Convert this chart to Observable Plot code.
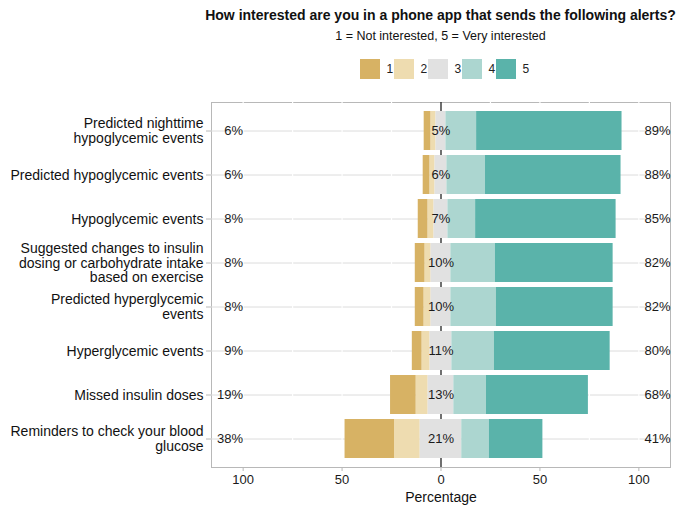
<!DOCTYPE html>
<html>
<head>
<meta charset="utf-8">
<script src="https://cdn.jsdelivr.net/npm/d3@7"></script>
<script src="https://cdn.jsdelivr.net/npm/@observablehq/plot@0.6"></script>
<style>
  html, body { margin: 0; padding: 0; background: #fff; }
  #wrap { position: relative; width: 680px; height: 513px; font-family: "Liberation Sans", Arial, sans-serif; color: #111; }
  #title { position: absolute; left: 200px; width: 481px; top: 6px; text-align: center; font-weight: bold; font-size: 14px; line-height: 18px; white-space: nowrap; }
  #subtitle { position: absolute; left: 200px; width: 481px; top: 29px; text-align: center; font-size: 12.5px; line-height: 15px; white-space: nowrap; }
  #legend { position: absolute; left: 360px; top: 59px; }
  #chart { position: absolute; left: 0; top: 88px; }
  svg { font-family: "Liberation Sans", Arial, sans-serif; }
</style>
</head>
<body>
<div id="wrap">
  <div id="title">How interested are you in a phone app that sends the following alerts?</div>
  <div id="subtitle">1 = Not interested, 5 = Very interested</div>
  <div id="legend"></div>
  <div id="chart"></div>
</div>
<script>
// ---- data ----
const items = [
  "Predicted nighttime hypoglycemic events",
  "Predicted hypoglycemic events",
  "Hypoglycemic events",
  "Suggested changes to insulin dosing or carbohydrate intake based on exercise",
  "Predicted hyperglycemic events",
  "Hyperglycemic events",
  "Missed insulin doses",
  "Reminders to check your blood glucose"
];
const itemLabels = [
  "Predicted nighttime\nhypoglycemic events",
  "Predicted hypoglycemic events",
  "Hypoglycemic events",
  "Suggested changes to insulin\ndosing or carbohydrate intake\nbased on exercise",
  "Predicted hyperglycemic\nevents",
  "Hyperglycemic events",
  "Missed insulin doses",
  "Reminders to check your blood\nglucose"
];
const levels = ["1", "2", "3", "4", "5"];
const levelColors = ["#d7b264", "#eedcb0", "#e1e1e1", "#acd6d0", "#5ab3aa"];
const pct1 = [3.5, 3.5, 5, 5, 4.5, 5, 13, 25];
const pct2 = [2.5, 2.5, 3, 3, 3.5, 4, 6, 13];
const pct3 = [5, 6, 7, 10, 10, 11, 13, 21];
const pct4 = [15.5, 19.5, 14, 22.5, 23, 21.5, 16.5, 14];
const pct5 = [73.5, 68.5, 71, 59.5, 59, 58.5, 51.5, 27];
const xTicks = [-100, -50, 0, 50, 100];
const xGrid = [-100, -75, -50, -25, 25, 50, 75, 100];

// ---- derived tables ----
const series = [pct1, pct2, pct3, pct4, pct5];
const segments = [];
items.forEach((item, i) => {
  let start = -(pct1[i] + pct2[i] + pct3[i] / 2);
  series.forEach((s, k) => {
    segments.push({item, level: levels[k], x1: start, x2: start + s[i]});
    start += s[i];
  });
});
const summary = items.map((item, i) => ({
  item,
  low: Math.round(pct1[i] + pct2[i]) + "%",
  neutral: Math.round(pct3[i]) + "%",
  high: Math.round(pct4[i] + pct5[i]) + "%",
  label: itemLabels[i]
}));

const colorScale = {domain: levels, range: levelColors};

// ---- main chart ----
const chart = Plot.plot({
  width: 680,
  height: 425,
  marginTop: 14,
  marginBottom: 46,
  marginLeft: 211,
  marginRight: 10,
  style: {fontFamily: "Liberation Sans, Arial, sans-serif", background: "transparent"},
  x: {domain: [-116, 116], label: null},
  y: {domain: items, paddingInner: 0.12, paddingOuter: 0.16, label: null},
  color: colorScale,
  marks: [
    Plot.frame({stroke: "#b8b8b8"}),
    Plot.ruleY(items, {y: d => d, stroke: "#dcdcdc"}),
    Plot.ruleX(xGrid, {x: d => d, stroke: "#ffffff", strokeWidth: 1.2}),
    Plot.ruleX([0], {x: d => d, stroke: "#222", strokeWidth: 1.3}),
    Plot.barX(segments, {y: "item", x1: "x1", x2: "x2", fill: "level"}),
    Plot.text(summary, {y: "item", x: 0, text: "neutral", fontSize: 13, fill: "#1a1a1a"}),
    Plot.text(summary, {y: "item", x: -100, text: "low", textAnchor: "end", dx: 0, fontSize: 13, fill: "#1a1a1a"}),
    Plot.text(summary, {y: "item", x: 116, text: "high", textAnchor: "end", dx: 0, fontSize: 13, fill: "#1a1a1a"}),
    Plot.text(summary, {y: "item", text: "label", frameAnchor: "left", textAnchor: "end", dx: -8, lineAnchor: "middle", lineHeight: 1.05, fontSize: 14, fill: "#111"}),
    Plot.axisY({tickSize: 5, tickFormat: () => "", stroke: "#b8b8b8", label: null}),
    Plot.axisX({ticks: xTicks, tickFormat: d => Math.abs(d), tickSize: 4, tickPadding: 3, stroke: "#b8b8b8", fill: "#1a1a1a", fontSize: 13, label: null}),
    Plot.text(["Percentage"], {frameAnchor: "bottom", dy: 30, fontSize: 14, fill: "#111", lineAnchor: "middle"})
  ]
});
document.getElementById("chart").appendChild(chart);

// ---- legend (drawn with Plot) ----
const legend = Plot.plot({
  width: 176,
  height: 20,
  margin: 0,
  marginRight: 20,
  style: {fontFamily: "Liberation Sans, Arial, sans-serif", background: "transparent", overflow: "visible"},
  x: {domain: levels, paddingInner: 14 / 34, paddingOuter: 0, axis: null},
  color: colorScale,
  marks: [
    Plot.cell(levels, {x: d => d, fill: d => d}),
    Plot.text(levels, {x: d => d, text: d => d, dx: 16, textAnchor: "start", fontSize: 12, fill: "#222"})
  ]
});
document.getElementById("legend").appendChild(legend);
</script>
</body>
</html>
